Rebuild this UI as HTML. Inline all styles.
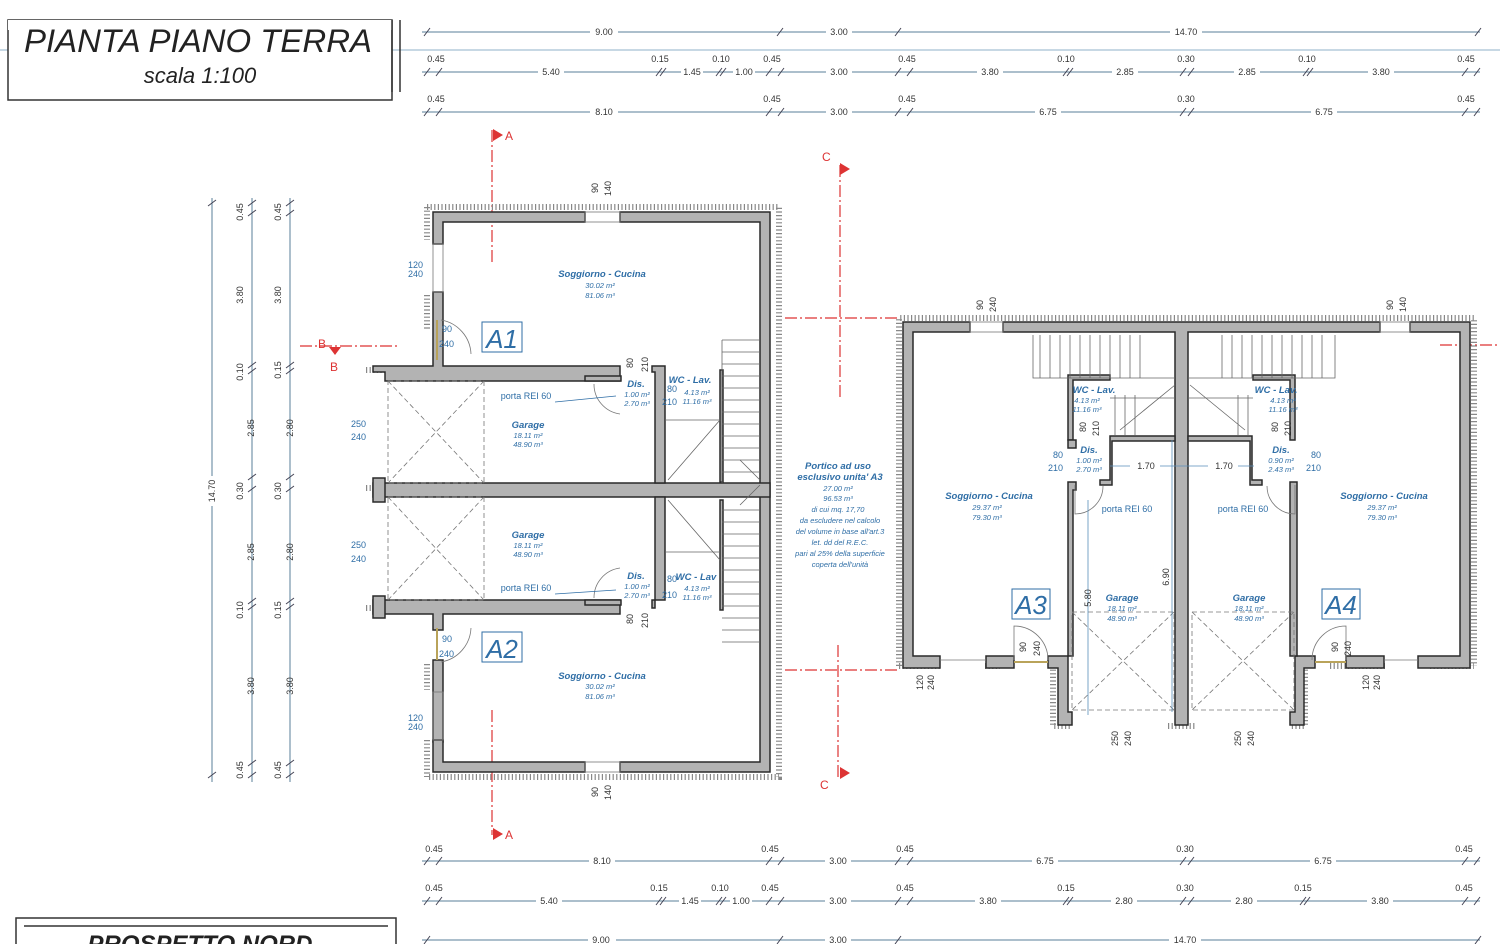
<!DOCTYPE html>
<html><head><meta charset="utf-8"><style>
html,body{margin:0;padding:0;background:#fff;width:1500px;height:944px;overflow:hidden}
svg{display:block}
text{font-family:"Liberation Sans",sans-serif}
.d{font-size:9px;fill:#333}
.dl{stroke:#5a7f9a;stroke-width:1}
.w{fill:#b3b3b3;stroke:#2a2a2a;stroke-width:1.5}
.h{fill:none;stroke:#888;stroke-width:6;stroke-dasharray:1.2 2.4}
.b{fill:#2f6ea6;font-style:italic;font-weight:bold;font-size:9.5px}
.bs{fill:#2f6ea6;font-style:italic;font-size:7.5px}
.bn{fill:#2f6ea6;font-size:9px}
.ds{fill:none;stroke:#777;stroke-width:.8;stroke-dasharray:5 3}
.st{fill:none;stroke:#666;stroke-width:.8}
.red{stroke:#d33;stroke-width:1.2;stroke-dasharray:12 3 2 3;fill:none}
</style></head><body>
<svg width="1500" height="944" viewBox="0 0 1500 944">
<line x1="0" y1="50" x2="1500" y2="50" stroke="#8fb0c8" stroke-width="1"/>
<rect x="8" y="20" width="384" height="80" fill="#fff" stroke="#333" stroke-width="1.5"/>
<rect x="8" y="20" width="384" height="10" fill="#fff"/>
<line x1="392" y1="20" x2="392" y2="92" stroke="#333" stroke-width="1.5"/>
<line x1="400" y1="20" x2="400" y2="92" stroke="#333" stroke-width="1.5"/>
<text x="198" y="52" text-anchor="middle" font-size="32" font-style="italic" fill="#222" textLength="348" lengthAdjust="spacingAndGlyphs">PIANTA PIANO TERRA</text>
<text x="200" y="83" text-anchor="middle" font-size="22" font-style="italic" fill="#222">scala 1:100</text>
<rect x="16" y="918" width="380" height="40" fill="#fff" stroke="#333" stroke-width="1.5"/>
<line x1="24" y1="926" x2="388" y2="926" stroke="#333" stroke-width="1.5"/>
<text x="200" y="952" text-anchor="middle" font-size="24" font-style="italic" font-weight="bold" fill="#222">PROSPETTO NORD</text>

<g class="dl">
<line x1="422" y1="32" x2="1480" y2="32"/><line x1="422" y1="72" x2="1480" y2="72"/><line x1="422" y1="112" x2="1480" y2="112"/>
<line x1="422" y1="861" x2="1480" y2="861"/><line x1="422" y1="901" x2="1480" y2="901"/><line x1="422" y1="940" x2="1480" y2="940"/>
<line x1="212" y1="198" x2="212" y2="782"/><line x1="252" y1="198" x2="252" y2="782"/><line x1="290" y1="198" x2="290" y2="782"/>
</g>
<g stroke="#445" stroke-width="1">
<path d="M424 36l6-8M777 36l6-8M895 36l6-8M1475 36l6-8"/>
<path d="M424 76l6-8M436 76l6-8M656 76l6-8M660 76l6-8M716 76l6-8M720 76l6-8M766 76l6-8M778 76l6-8M895 76l6-8M907 76l6-8M1063 76l6-8M1067 76l6-8M1180 76l6-8M1188 76l6-8M1303 76l6-8M1307 76l6-8M1462 76l6-8M1474 76l6-8"/>
<path d="M424 116l6-8M436 116l6-8M766 116l6-8M778 116l6-8M895 116l6-8M907 116l6-8M1180 116l6-8M1188 116l6-8M1462 116l6-8M1474 116l6-8"/>
<path d="M424 865l6-8M436 865l6-8M766 865l6-8M778 865l6-8M895 865l6-8M907 865l6-8M1180 865l6-8M1188 865l6-8M1462 865l6-8M1474 865l6-8"/>
<path d="M424 905l6-8M436 905l6-8M656 905l6-8M660 905l6-8M716 905l6-8M720 905l6-8M766 905l6-8M778 905l6-8M895 905l6-8M907 905l6-8M1063 905l6-8M1067 905l6-8M1180 905l6-8M1188 905l6-8M1300 905l6-8M1304 905l6-8M1462 905l6-8M1474 905l6-8"/>
<path d="M424 944l6-8M777 944l6-8M895 944l6-8M1475 944l6-8"/>
<path d="M208 206l8-6M208 778l8-6M248 206l8-6M248 216l8-6M248 368l8-6M248 374l8-6M248 480l8-6M248 492l8-6M248 604l8-6M248 610l8-6M248 766l8-6M248 778l8-6M286 206l8-6M286 216l8-6M286 368l8-6M286 374l8-6M286 480l8-6M286 492l8-6M286 604l8-6M286 610l8-6M286 766l8-6M286 778l8-6"/>
</g>
<g class="d" text-anchor="middle">
<g><rect x="590" y="26" width="28" height="12" fill="#fff"/><text x="604" y="35">9.00</text>
<rect x="826" y="26" width="26" height="12" fill="#fff"/><text x="839" y="35">3.00</text>
<rect x="1170" y="26" width="32" height="12" fill="#fff"/><text x="1186" y="35">14.70</text></g>
<rect x="538" y="66" width="26" height="12" fill="#fff"/><text x="551" y="75">5.40</text>
<rect x="681" y="66" width="22" height="12" fill="#fff"/><text x="692" y="75">1.45</text>
<rect x="733" y="66" width="22" height="12" fill="#fff"/><text x="744" y="75">1.00</text>
<rect x="826" y="66" width="26" height="12" fill="#fff"/><text x="839" y="75">3.00</text>
<rect x="977" y="66" width="26" height="12" fill="#fff"/><text x="990" y="75">3.80</text>
<rect x="1112" y="66" width="26" height="12" fill="#fff"/><text x="1125" y="75">2.85</text>
<rect x="1234" y="66" width="26" height="12" fill="#fff"/><text x="1247" y="75">2.85</text>
<rect x="1368" y="66" width="26" height="12" fill="#fff"/><text x="1381" y="75">3.80</text>
<text x="436" y="62">0.45</text><text x="660" y="62">0.15</text><text x="721" y="62">0.10</text><text x="772" y="62">0.45</text><text x="907" y="62">0.45</text><text x="1066" y="62">0.10</text><text x="1186" y="62">0.30</text><text x="1307" y="62">0.10</text><text x="1466" y="62">0.45</text>
<rect x="590" y="106" width="28" height="12" fill="#fff"/><text x="604" y="115">8.10</text>
<rect x="826" y="106" width="26" height="12" fill="#fff"/><text x="839" y="115">3.00</text>
<rect x="1035" y="106" width="26" height="12" fill="#fff"/><text x="1048" y="115">6.75</text>
<rect x="1311" y="106" width="26" height="12" fill="#fff"/><text x="1324" y="115">6.75</text>
<text x="436" y="102">0.45</text><text x="772" y="102">0.45</text><text x="907" y="102">0.45</text><text x="1186" y="102">0.30</text><text x="1466" y="102">0.45</text>
<text x="434" y="852">0.45</text><text x="770" y="852">0.45</text><text x="905" y="852">0.45</text><text x="1185" y="852">0.30</text><text x="1464" y="852">0.45</text>
<rect x="589" y="855" width="26" height="12" fill="#fff"/><text x="602" y="864">8.10</text>
<rect x="825" y="855" width="26" height="12" fill="#fff"/><text x="838" y="864">3.00</text>
<rect x="1032" y="855" width="26" height="12" fill="#fff"/><text x="1045" y="864">6.75</text>
<rect x="1310" y="855" width="26" height="12" fill="#fff"/><text x="1323" y="864">6.75</text>
<text x="434" y="891">0.45</text><text x="659" y="891">0.15</text><text x="720" y="891">0.10</text><text x="770" y="891">0.45</text><text x="905" y="891">0.45</text><text x="1066" y="891">0.15</text><text x="1185" y="891">0.30</text><text x="1303" y="891">0.15</text><text x="1464" y="891">0.45</text>
<rect x="536" y="895" width="26" height="12" fill="#fff"/><text x="549" y="904">5.40</text>
<rect x="679" y="895" width="22" height="12" fill="#fff"/><text x="690" y="904">1.45</text>
<rect x="730" y="895" width="22" height="12" fill="#fff"/><text x="741" y="904">1.00</text>
<rect x="825" y="895" width="26" height="12" fill="#fff"/><text x="838" y="904">3.00</text>
<rect x="975" y="895" width="26" height="12" fill="#fff"/><text x="988" y="904">3.80</text>
<rect x="1111" y="895" width="26" height="12" fill="#fff"/><text x="1124" y="904">2.80</text>
<rect x="1231" y="895" width="26" height="12" fill="#fff"/><text x="1244" y="904">2.80</text>
<rect x="1367" y="895" width="26" height="12" fill="#fff"/><text x="1380" y="904">3.80</text>
<rect x="588" y="934" width="28" height="12" fill="#fff"/><text x="601" y="943">9.00</text>
<rect x="825" y="934" width="26" height="12" fill="#fff"/><text x="838" y="943">3.00</text>
<rect x="1169" y="934" width="32" height="12" fill="#fff"/><text x="1185" y="943">14.70</text>
</g>
<g class="d" text-anchor="middle">
<rect x="206" y="476" width="12" height="30" fill="#fff"/><text transform="translate(215,491) rotate(-90)">14.70</text>
<g transform="translate(243,0)">
<text transform="translate(0,212) rotate(-90)">0.45</text><text transform="translate(0,295) rotate(-90)">3.80</text><text transform="translate(0,372) rotate(-90)">0.10</text><text transform="translate(11,428) rotate(-90)">2.85</text><text transform="translate(0,491) rotate(-90)">0.30</text><text transform="translate(11,552) rotate(-90)">2.85</text><text transform="translate(0,610) rotate(-90)">0.10</text><text transform="translate(11,686) rotate(-90)">3.80</text><text transform="translate(0,770) rotate(-90)">0.45</text></g>
<g transform="translate(281,0)">
<text transform="translate(0,212) rotate(-90)">0.45</text><text transform="translate(0,295) rotate(-90)">3.80</text><text transform="translate(0,370) rotate(-90)">0.15</text><text transform="translate(12,428) rotate(-90)">2.80</text><text transform="translate(0,491) rotate(-90)">0.30</text><text transform="translate(12,552) rotate(-90)">2.80</text><text transform="translate(0,610) rotate(-90)">0.15</text><text transform="translate(12,686) rotate(-90)">3.80</text><text transform="translate(0,770) rotate(-90)">0.45</text></g>
</g>

<path class="red" d="M492 130V265M492 710V835M840 165V400M838 645V780M300 346H400M1440 345H1500M785 318H900M785 670H900"/>
<g fill="#d33"><path d="M493 129l10 6-10 6z"/><path d="M493 828l10 6-10 6z"/><path d="M840 163l10 6-10 6z"/><path d="M840 767l10 6-10 6z"/><path d="M329 347l12 0-6 8z"/></g>
<g fill="#d33" font-size="12"><text x="505" y="140">A</text><text x="505" y="839">A</text><text x="822" y="161">C</text><text x="820" y="789">C</text><text x="318" y="348">B</text><text x="330" y="371">B</text></g>

<g class="h">
<path d="M427 207H779V777H427"/><path d="M427 207V240M427 295V330M427 664V690M427 740V777"/>
<path d="M366 370H430M366 488H376M366 608H430"/>
</g>
<g class="w">
<path d="M433 212H585V222H443V244H433Z"/>
<path d="M620 212H770V772H620V762H760V222H620Z"/>
<path d="M433 292H443V366H620V381H385V372H373V366H433Z"/>
<rect x="373" y="483" width="397" height="14"/>
<rect x="373" y="478" width="12" height="24"/>
<path d="M373 600H620V614H443V630H433V614H373Z"/>
<rect x="373" y="596" width="12" height="22"/>
<path d="M433 660H443V742H433Z"/>
<path d="M433 740H443V762H585V772H433Z"/>
<path d="M652 366H665V483H655V372H652Z"/>
<path d="M652 600H665V497H655V608H652Z"/>
<rect x="720" y="370" width="3" height="112"/>
<rect x="720" y="500" width="3" height="110"/>
<rect x="585" y="376" width="36" height="5"/>
<rect x="585" y="600" width="36" height="5"/>
</g>
<g fill="none" stroke="#777" stroke-width=".8">
<rect x="585" y="212" width="35" height="10"/><rect x="585" y="762" width="35" height="10"/>
<rect x="433" y="244" width="10" height="48"/><rect x="433" y="692" width="10" height="48"/>
<line x1="437" y1="320" x2="437" y2="360" stroke="#b9a35a" stroke-width="2"/>
<line x1="437" y1="628" x2="437" y2="660" stroke="#b9a35a" stroke-width="2"/>
<path d="M441 320a36 36 0 0 1 30 34"/><path d="M441 662a36 36 0 0 0 30 -34"/>
<path d="M594 384a30 30 0 0 0 26 30"/><path d="M594 598a30 30 0 0 1 26 -30"/>
</g>
<g class="ds">
<rect x="388" y="381" width="96" height="102"/><path d="M388 381L484 483M484 381L388 483"/>
<rect x="388" y="497" width="96" height="103"/><path d="M388 497L484 600M484 497L388 600"/>
</g>
<g class="st">
<path d="M722 340H760M722 352H760M722 364H760M722 376H760M722 388H760M722 400H760M722 412H760M722 424H760M722 436H760M722 448H760M722 460H760M722 472H760"/>
<path d="M722 510H760M722 522H760M722 534H760M722 546H760M722 558H760M722 570H760M722 582H760M722 594H760M722 606H760M722 618H760M722 630H760M722 642H760"/>
<path d="M722 340V483M665 420H720M665 552H720M668 480L720 420M668 500L720 560M740 460L760 480M740 505L760 485"/>
</g>
<g text-anchor="middle">
<text class="b" x="602" y="277">Soggiorno - Cucina</text><text class="bs" x="600" y="288">30.02 m²</text><text class="bs" x="600" y="298">81.06 m³</text>
<text class="b" x="602" y="679">Soggiorno - Cucina</text><text class="bs" x="600" y="689">30.02 m²</text><text class="bs" x="600" y="699">81.06 m³</text>
<text class="b" x="528" y="428">Garage</text><text class="bs" x="528" y="438">18.11 m²</text><text class="bs" x="528" y="447">48.90 m³</text>
<text class="b" x="528" y="538">Garage</text><text class="bs" x="528" y="548">18.11 m²</text><text class="bs" x="528" y="557">48.90 m³</text>
<text class="b" x="636" y="387">Dis.</text><text class="bs" x="637" y="397">1.00 m²</text><text class="bs" x="637" y="406">2.70 m³</text>
<text class="b" x="636" y="579">Dis.</text><text class="bs" x="637" y="589">1.00 m²</text><text class="bs" x="637" y="598">2.70 m³</text>
<text class="b" x="690" y="383">WC - Lav.</text><text class="bs" x="697" y="395">4.13 m²</text><text class="bs" x="697" y="404">11.16 m³</text>
<text class="b" x="696" y="580">WC - Lav</text><text class="bs" x="697" y="591">4.13 m²</text><text class="bs" x="697" y="600">11.16 m³</text>
<text class="bn" x="526" y="399">porta REI 60</text><text class="bn" x="526" y="591">porta REI 60</text>
</g>
<path d="M555 402L616 396M555 594L616 590" stroke="#2f6ea6" stroke-width=".8"/>
<g class="bn" font-size="8.5">
<text x="442" y="332">90</text><text x="439" y="347">240</text><text x="442" y="642">90</text><text x="439" y="657">240</text>
<text x="408" y="268">120</text><text x="408" y="277">240</text><text x="408" y="721">120</text><text x="408" y="730">240</text>
<text x="351" y="427">250</text><text x="351" y="440">240</text><text x="351" y="548">250</text><text x="351" y="562">240</text>
<text x="667" y="392">80</text><text x="662" y="405">210</text><text x="667" y="582">80</text><text x="662" y="598">210</text>
</g>
<g class="d" font-size="8"><text transform="translate(598,193) rotate(-90)">90</text><text transform="translate(611,196) rotate(-90)">140</text>
<text transform="translate(598,797) rotate(-90)">90</text><text transform="translate(611,800) rotate(-90)">140</text>
<text transform="translate(633,368) rotate(-90)">80</text><text transform="translate(648,372) rotate(-90)">210</text>
<text transform="translate(633,624) rotate(-90)">80</text><text transform="translate(648,628) rotate(-90)">210</text></g>
<rect x="482" y="322" width="40" height="30" fill="none" stroke="#2f6ea6" stroke-width="1"/><text x="502" y="348" text-anchor="middle" font-size="26" font-style="italic" fill="#2f6ea6">A1</text>
<rect x="482" y="632" width="40" height="30" fill="none" stroke="#2f6ea6" stroke-width="1"/><text x="502" y="658" text-anchor="middle" font-size="26" font-style="italic" fill="#2f6ea6">A2</text>

<g text-anchor="middle">
<text class="b" x="838" y="469">Portico ad uso</text><text class="b" x="840" y="480">esclusivo unita' A3</text>
<g class="bs"><text x="838" y="491">27.00 m²</text><text x="838" y="501">96.53 m³</text><text x="838" y="512">di cui mq. 17,70</text><text x="840" y="523">da escludere nel calcolo</text><text x="840" y="534">del volume in base all'art.3</text><text x="840" y="545">let. dd del R.E.C.</text><text x="840" y="556">pari al 25% della superficie</text><text x="840" y="567">coperta dell'unità</text></g>
</g>

<g class="h">
<path d="M899 666V318H1474V666"/><path d="M899 666H940M985 666H1000M1330 666H1385M1430 666H1474"/>
<path d="M1053 666V726H1070M1305 666V726H1290M1168 726H1195"/>
</g>
<g class="w">
<path d="M903 322H970V332H913V656H940V668H903Z"/>
<path d="M1003 322H1380V332H1188V725H1175V332H1003Z"/>
<path d="M1410 322H1470V668H1418V656H1460V332H1410Z"/>
<rect x="986" y="656" width="28" height="12"/>
<rect x="1346" y="656" width="38" height="12"/>
<path d="M1048 656H1068V712H1072V725H1058V668H1048Z"/>
<path d="M1315 656H1295V712H1290V725H1304V668H1315Z"/>
<path d="M1068 375H1110V380H1073V440H1068Z"/><path d="M1068 440H1076V448H1068Z"/>
<path d="M1068 482H1076V490H1073V656H1068Z"/>
<path d="M1110 436H1175V441H1112V485H1100V480H1110Z"/>
<path d="M1253 375H1295V440H1290V380H1253Z"/>
<path d="M1188 436H1252V480H1262V485H1250V441H1188Z"/>
<path d="M1290 482H1297V656H1290Z"/>
</g>
<g fill="none" stroke="#777" stroke-width=".8">
<rect x="970" y="322" width="33" height="10"/><rect x="1380" y="322" width="30" height="10"/>
<path d="M940 660H986M1384 660H1418"/>
<line x1="1014" y1="662" x2="1048" y2="662" stroke="#b9a35a" stroke-width="2"/>
<line x1="1315" y1="662" x2="1346" y2="662" stroke="#b9a35a" stroke-width="2"/>
<path d="M1014 660V626a34 34 0 0 1 34 34"/><path d="M1346 660V626a34 34 0 0 0 -34 34"/>
<path d="M1075 485V514a28 28 0 0 0 28 -28"/><path d="M1295 485V514a28 28 0 0 1 -28 -28"/>
</g>
<g class="st">
<path d="M1033 335V378H1175M1188 378H1335V335"/>
<path d="M1040 335V378M1050 335V378M1060 335V378M1070 335V378M1080 335V378M1090 335V378M1100 335V378M1110 335V378M1120 335V378M1130 335V378M1140 335V378"/>
<path d="M1222 335V378M1232 335V378M1242 335V378M1252 335V378M1262 335V378M1272 335V378M1282 335V378M1292 335V378M1302 335V378M1312 335V378M1322 335V378"/>
<path d="M1110 398H1175M1188 398H1253M1115 395V435M1125 395V435M1135 395V435M1238 395V435M1248 395V435M1120 430L1175 385M1190 385L1245 430"/>
</g>
<g class="ds">
<rect x="1072" y="612" width="102" height="98"/><path d="M1072 612L1174 710M1174 612L1072 710"/>
<rect x="1192" y="612" width="102" height="98"/><path d="M1192 612L1294 710M1294 612L1192 710"/>
</g>
<path d="M1110 466H1254M1088 500V715M1172 440V712" stroke="#5a8fba" stroke-width=".8" fill="none"/>
<g fill="#fff"><rect x="1130" y="458" width="30" height="14"/><rect x="1208" y="458" width="30" height="14"/></g>
<g class="d" text-anchor="middle" font-size="10"><text x="1146" y="469">1.70</text><text x="1224" y="469">1.70</text>
<text transform="translate(1091,598) rotate(-90)">5.80</text><text transform="translate(1169,577) rotate(-90)">6.90</text></g>
<g text-anchor="middle">
<text class="b" x="989" y="499">Soggiorno - Cucina</text><text class="bs" x="987" y="510">29.37 m²</text><text class="bs" x="987" y="520">79.30 m³</text>
<text class="b" x="1384" y="499">Soggiorno - Cucina</text><text class="bs" x="1382" y="510">29.37 m²</text><text class="bs" x="1382" y="520">79.30 m³</text>
<text class="b" x="1122" y="601">Garage</text><text class="bs" x="1122" y="611">18.11 m²</text><text class="bs" x="1122" y="621">48.90 m³</text>
<text class="b" x="1249" y="601">Garage</text><text class="bs" x="1249" y="611">18.11 m²</text><text class="bs" x="1249" y="621">48.90 m³</text>
<text class="b" x="1094" y="393">WC - Lav.</text><text class="bs" x="1087" y="403">4.13 m²</text><text class="bs" x="1087" y="412">11.16 m³</text>
<text class="b" x="1276" y="393">WC - Lav.</text><text class="bs" x="1283" y="403">4.13 m²</text><text class="bs" x="1283" y="412">11.16 m³</text>
<text class="b" x="1089" y="453">Dis.</text><text class="bs" x="1089" y="463">1.00 m²</text><text class="bs" x="1089" y="472">2.70 m³</text>
<text class="b" x="1281" y="453">Dis.</text><text class="bs" x="1281" y="463">0.90 m²</text><text class="bs" x="1281" y="472">2.43 m³</text>
<text class="bn" x="1127" y="512">porta REI 60</text><text class="bn" x="1243" y="512">porta REI 60</text>
</g>
<g class="bn" font-size="8.5"><text x="1053" y="458">80</text><text x="1048" y="471">210</text><text x="1311" y="458">80</text><text x="1306" y="471">210</text></g>
<g class="d" font-size="8">
<text transform="translate(983,310) rotate(-90)">90</text><text transform="translate(996,312) rotate(-90)">240</text>
<text transform="translate(1393,310) rotate(-90)">90</text><text transform="translate(1406,312) rotate(-90)">140</text>
<text transform="translate(1026,652) rotate(-90)">90</text><text transform="translate(1040,656) rotate(-90)">240</text>
<text transform="translate(1338,652) rotate(-90)">90</text><text transform="translate(1351,656) rotate(-90)">240</text>
<text transform="translate(923,690) rotate(-90)">120</text><text transform="translate(934,690) rotate(-90)">240</text>
<text transform="translate(1369,690) rotate(-90)">120</text><text transform="translate(1380,690) rotate(-90)">240</text>
<text transform="translate(1118,746) rotate(-90)">250</text><text transform="translate(1131,746) rotate(-90)">240</text>
<text transform="translate(1241,746) rotate(-90)">250</text><text transform="translate(1254,746) rotate(-90)">240</text>
<text transform="translate(1086,432) rotate(-90)">80</text><text transform="translate(1099,436) rotate(-90)">210</text>
<text transform="translate(1278,432) rotate(-90)">80</text><text transform="translate(1291,436) rotate(-90)">210</text></g>
<rect x="1012" y="589" width="38" height="30" fill="none" stroke="#2f6ea6" stroke-width="1"/><text x="1031" y="614" text-anchor="middle" font-size="26" font-style="italic" fill="#2f6ea6">A3</text>
<rect x="1322" y="589" width="38" height="30" fill="none" stroke="#2f6ea6" stroke-width="1"/><text x="1341" y="614" text-anchor="middle" font-size="26" font-style="italic" fill="#2f6ea6">A4</text>
</svg>
</body></html>
